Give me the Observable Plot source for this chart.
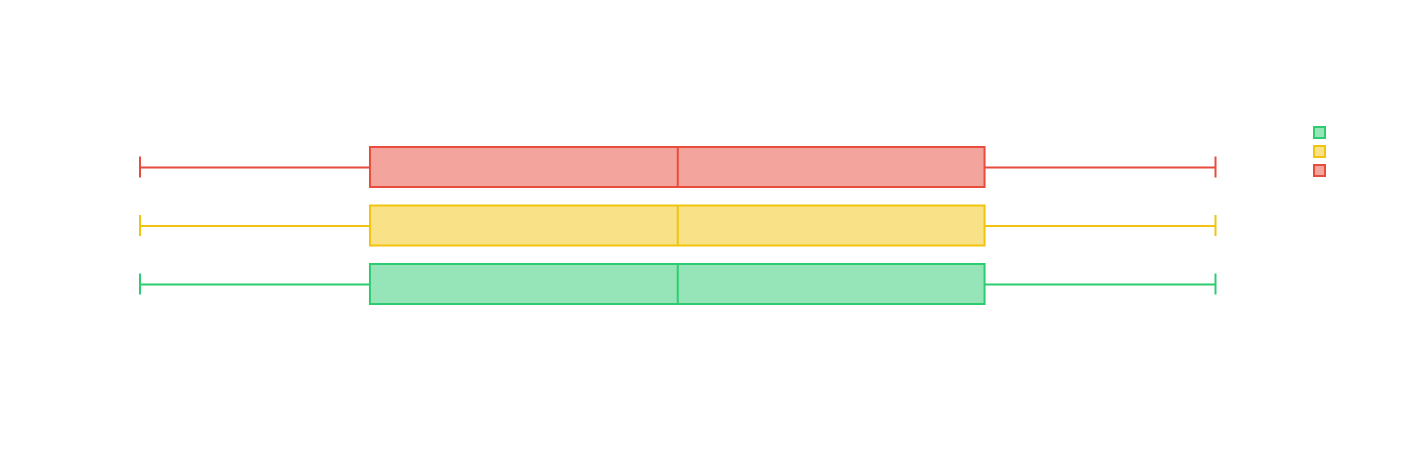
<!DOCTYPE html>
<html>
<head>
<meta charset="utf-8">
<script src="https://cdn.jsdelivr.net/npm/d3@7"></script>
<script src="https://cdn.jsdelivr.net/npm/@observablehq/plot@0.6"></script>
<style>
  html, body { margin: 0; padding: 0; background: #ffffff; }
  #wrap { position: relative; width: 1412px; height: 450px; }
  #legend { position: absolute; left: 1313px; top: 126px; }
  .sw { width: 9px; height: 9px; border: 2px solid; margin-bottom: 6px; box-sizing: content-box; }
</style>
</head>
<body>
<div id="wrap"><div id="legend"></div></div>
<script>
// Data
const categories = ["Series A", "Series B", "Series C"];
const mins    = [0, 0, 0];
const q1s     = [3, 3, 3];
const medians = [7, 7, 7];
const q3s     = [11, 11, 11];
const maxs    = [14, 14, 14];
const strokeColors = ["#e74c3c", "#f1c40f", "#2ecc71"];
const fillColors   = ["#f4a69d", "#f8e187", "#96e5b8"];

const rows = categories.map((c, i) => ({
  cat: c, min: mins[i], q1: q1s[i], med: medians[i], q3: q3s[i], max: maxs[i]
}));

const chart = Plot.plot({
  width: 1412,
  height: 450,
  marginLeft: 139.5,
  marginRight: 197,
  marginTop: 147,
  marginBottom: 146,
  style: { background: "transparent" },
  x: { domain: [0, 14], axis: null },
  y: { type: "band", domain: categories, paddingInner: 0.316, paddingOuter: 0, round: false, axis: null },
  color: { type: "ordinal", domain: categories, range: strokeColors },
  marks: [
    Plot.ruleY(rows, { y: "cat", x1: "min", x2: "q1", stroke: "cat", strokeWidth: 2 }),
    Plot.ruleY(rows, { y: "cat", x1: "q3", x2: "max", stroke: "cat", strokeWidth: 2 }),
    Plot.tickX(rows, { y: "cat", x: "min", stroke: "cat", strokeWidth: 2, insetTop: 9.5, insetBottom: 9.5 }),
    Plot.tickX(rows, { y: "cat", x: "max", stroke: "cat", strokeWidth: 2, insetTop: 9.5, insetBottom: 9.5 }),
    Plot.barX(rows, { y: "cat", x1: "q1", x2: "q3", stroke: "cat", fill: "cat", fillOpacity: 0.5, strokeWidth: 2 }),
    Plot.tickX(rows, { y: "cat", x: "med", stroke: "cat", strokeWidth: 2 })
  ]
});

const wrap = document.getElementById("wrap");
wrap.insertBefore(chart, wrap.firstChild);

// Legend (reverse order: green, yellow, red)
const legend = document.getElementById("legend");
for (let i = categories.length - 1; i >= 0; i--) {
  const d = document.createElement("div");
  d.className = "sw";
  d.style.borderColor = strokeColors[i];
  d.style.background = fillColors[i];
  legend.appendChild(d);
}
</script>
</body>
</html>
